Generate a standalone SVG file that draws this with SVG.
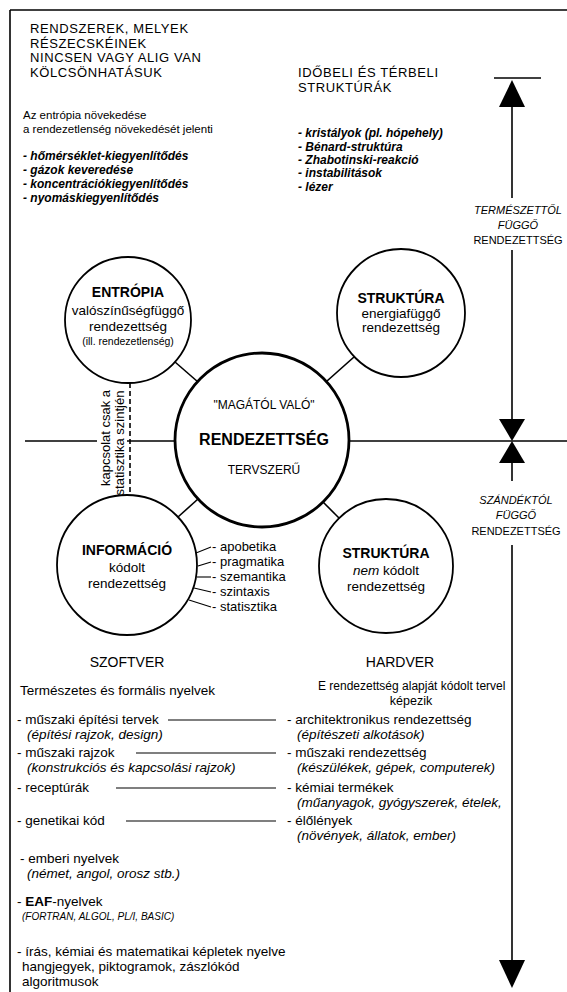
<svg xmlns="http://www.w3.org/2000/svg" width="567" height="992" viewBox="0 0 567 992">
<style>
text{font-family:"Liberation Sans",Arial,sans-serif;fill:#000}
.cap{font-size:13px;letter-spacing:0.6px}
.t11{font-size:11.5px}
.bi{font-size:12px;font-style:italic;font-weight:bold}
.t14{font-size:13.5px}
.i13{font-size:13.5px;font-style:italic}
.sub{font-size:13.5px;text-anchor:middle}
.hd{font-size:14px;font-weight:bold;text-anchor:middle}
.lab{font-size:13px}
.ax{font-size:11px;text-anchor:middle}
.b{font-weight:bold}
.c{text-anchor:middle}
.ln{stroke:#000;stroke-width:1.6;fill:none}
.circ{stroke:#000;stroke-width:1.8;fill:#fff}
.thin{stroke:#000;stroke-width:1.1;fill:none}
</style>

<g id="frame">
<line class="ln" x1="10" y1="10" x2="567" y2="10"/>
<line class="ln" x1="10" y1="10" x2="10" y2="992"/>
</g>

<g id="top-left-text">
<text class="cap" x="30" y="33">RENDSZEREK, MELYEK</text>
<text class="cap" x="30" y="47.5">RÉSZECSKÉINEK</text>
<text class="cap" x="30" y="62">NINCSEN VAGY ALIG VAN</text>
<text class="cap" x="30" y="76.5">KÖLCSÖNHATÁSUK</text>
<text class="t11" x="23" y="119">Az entrópia növekedése</text>
<text class="t11" x="23" y="133">a rendezetlenség növekedését jelenti</text>
<text class="bi" x="23" y="160">- hőmérséklet-kiegyenlítődés</text>
<text class="bi" x="23" y="174">- gázok keveredése</text>
<text class="bi" x="23" y="188">- koncentrációkiegyenlítődés</text>
<text class="bi" x="23" y="202">- nyomáskiegyenlítődés</text>
</g>

<g id="top-right-text">
<text class="cap" x="298" y="77">IDŐBELI ÉS TÉRBELI</text>
<text class="cap" x="298" y="91.5">STRUKTÚRÁK</text>
<text class="bi" x="298" y="137">- kristályok (pl. hópehely)</text>
<text class="bi" x="298" y="151">- Bénard-struktúra</text>
<text class="bi" x="298" y="164">- Zhabotinski-reakció</text>
<text class="bi" x="298" y="177">- instabilitások</text>
<text class="bi" x="298" y="191">- lézer</text>
</g>

<g id="axis">
<line class="ln" x1="494" y1="78" x2="541" y2="78"/>
<path d="M512,80 L499,107 L525,107 z" fill="#000"/>
<line class="ln" x1="512" y1="107" x2="512" y2="198"/>
<text class="ax" x="518" y="214" font-style="italic">TERMÉSZETTŐL</text>
<text class="ax" x="518" y="229" font-style="italic">FÜGGŐ</text>
<text class="ax" x="518" y="244">RENDEZETTSÉG</text>
<line class="ln" x1="512" y1="250" x2="512" y2="420"/>
<path d="M512,441 L499,419 L525,419 z" fill="#000"/>
<path d="M512,441 L499,463 L525,463 z" fill="#000"/>
<line class="ln" x1="512" y1="463" x2="512" y2="481"/>
<text class="ax" x="516" y="504" font-style="italic">SZÁNDÉKTÓL</text>
<text class="ax" x="516" y="519" font-style="italic">FÜGGŐ</text>
<text class="ax" x="516" y="535">RENDEZETTSÉG</text>
<line class="ln" x1="512" y1="545" x2="512" y2="961"/>
<path d="M512,988 L499,960 L525,960 z" fill="#000"/>
</g>

<g id="connectors">
<line class="ln" x1="25" y1="441" x2="97" y2="441"/>
<line class="ln" x1="127" y1="441" x2="176" y2="441"/>
<line class="ln" x1="348" y1="441" x2="567" y2="441"/>
<line class="ln" x1="130" y1="383" x2="130" y2="496" stroke-dasharray="5,3"/>
<line class="ln" x1="175" y1="362" x2="198" y2="382"/>
<line class="ln" x1="327" y1="381" x2="354" y2="357"/>
<line class="ln" x1="198" y1="499" x2="178" y2="517"/>
<line class="ln" x1="323" y1="502" x2="339" y2="518"/>
<line class="thin" x1="196" y1="553" x2="211" y2="547"/>
<line class="thin" x1="198" y1="566" x2="211" y2="562"/>
<line class="thin" x1="197" y1="577" x2="211" y2="577"/>
<line class="thin" x1="194" y1="588" x2="211" y2="592"/>
<line class="thin" x1="189" y1="600" x2="211" y2="607"/>
<line class="thin" x1="168" y1="720" x2="276" y2="720"/>
<line class="thin" x1="136" y1="753" x2="276" y2="753"/>
<line class="thin" x1="116" y1="788" x2="276" y2="788"/>
<line class="thin" x1="126" y1="821" x2="276" y2="821"/>
</g>

<g id="dashed-label">
<text class="lab c" transform="translate(110,438) rotate(-90)">kapcsolat csak a</text>
<text class="lab c" transform="translate(124,443) rotate(-90)">statisztika szintjén</text>
</g>

<g id="entropia">
<circle class="circ" cx="128" cy="320" r="63"/>
<text class="hd" x="128" y="297">ENTRÓPIA</text>
<text class="sub" x="128" y="315">valószínűségfüggő</text>
<text class="sub" x="128" y="331">rendezettség</text>
<text class="c" x="128" y="345" style="font-size:10.5px">(ill. rendezetlenség)</text>
</g>

<g id="struktura-energia">
<circle class="circ" cx="401" cy="313" r="64"/>
<text class="hd" x="401" y="303">STRUKTÚRA</text>
<text class="sub" x="401" y="318">energiafüggő</text>
<text class="sub" x="401" y="332">rendezettség</text>
</g>

<g id="rendezettseg">
<circle cx="262" cy="440" r="87" fill="#fff" stroke="#000" stroke-width="2.8"/>
<text class="c" x="264" y="409" style="font-size:12px">"MAGÁTÓL VALÓ"</text>
<text class="b c" x="264" y="445" style="font-size:16px">RENDEZETTSÉG</text>
<text class="c" x="264" y="474" style="font-size:12px">TERVSZERŰ</text>
</g>

<g id="informacio">
<circle class="circ" cx="127" cy="565" r="70"/>
<text class="hd" x="127" y="555">INFORMÁCIÓ</text>
<text class="sub" x="127" y="572">kódolt</text>
<text class="sub" x="127" y="588">rendezettség</text>
<text class="lab" x="212" y="551">- apobetika</text>
<text class="lab" x="212" y="566">- pragmatika</text>
<text class="lab" x="212" y="581">- szemantika</text>
<text class="lab" x="212" y="596">- szintaxis</text>
<text class="lab" x="212" y="611">- statisztika</text>
</g>

<g id="struktura-nem-kodolt">
<circle class="circ" cx="386" cy="566" r="67"/>
<text class="hd" x="386" y="558">STRUKTÚRA</text>
<text class="sub" x="386" y="575"><tspan font-style="italic">nem</tspan> kódolt</text>
<text class="sub" x="386" y="591">rendezettség</text>
</g>

<g id="szoftver">
<text class="t14 c" x="127" y="667" style="font-size:14px">SZOFTVER</text>
<text class="t14" x="20" y="695">Természetes és formális nyelvek</text>
<text class="t14" x="17" y="724">- műszaki építési tervek</text>
<text class="i13" x="27" y="739">(építési rajzok, design)</text>
<text class="t14" x="17" y="757">- műszaki rajzok</text>
<text class="i13" x="27" y="772">(konstrukciós és kapcsolási rajzok)</text>
<text class="t14" x="17" y="792">- receptúrák</text>
<text class="t14" x="17" y="825">- genetikai kód</text>
<text class="t14" x="20" y="863">- emberi nyelvek</text>
<text class="i13" x="27" y="878">(német, angol, orosz stb.)</text>
<text class="t14" x="17" y="906">- <tspan font-weight="bold">EAF</tspan>-nyelvek</text>
<text x="22" y="920" style="font-size:10px;font-style:italic">(FORTRAN, ALGOL, PL/I, BASIC)</text>
<text class="t14" x="17" y="956">- írás, kémiai és matematikai képletek nyelve</text>
<text class="t14" x="22" y="971">hangjegyek, piktogramok, zászlókód</text>
<text class="t14" x="22" y="986">algoritmusok</text>
</g>

<g id="hardver">
<text class="t14 c" x="400" y="667" style="font-size:14px">HARDVER</text>
<text x="318" y="690" style="font-size:12px">E rendezettség alapját kódolt tervel</text>
<text class="c" x="411" y="705" style="font-size:12.5px">képezik</text>
<text class="t14" x="287" y="724">- architektronikus rendezettség</text>
<text class="i13" x="297" y="739">(építészeti alkotások)</text>
<text class="t14" x="287" y="757">- műszaki rendezettség</text>
<text class="i13" x="297" y="772">(készülékek, gépek, computerek)</text>
<text class="t14" x="287" y="792">- kémiai termékek</text>
<text class="i13" x="297" y="807">(műanyagok, gyógyszerek, ételek,</text>
<text class="t14" x="287" y="825">- élőlények</text>
<text class="i13" x="297" y="840">(növények, állatok, ember)</text>
</g>
</svg>
